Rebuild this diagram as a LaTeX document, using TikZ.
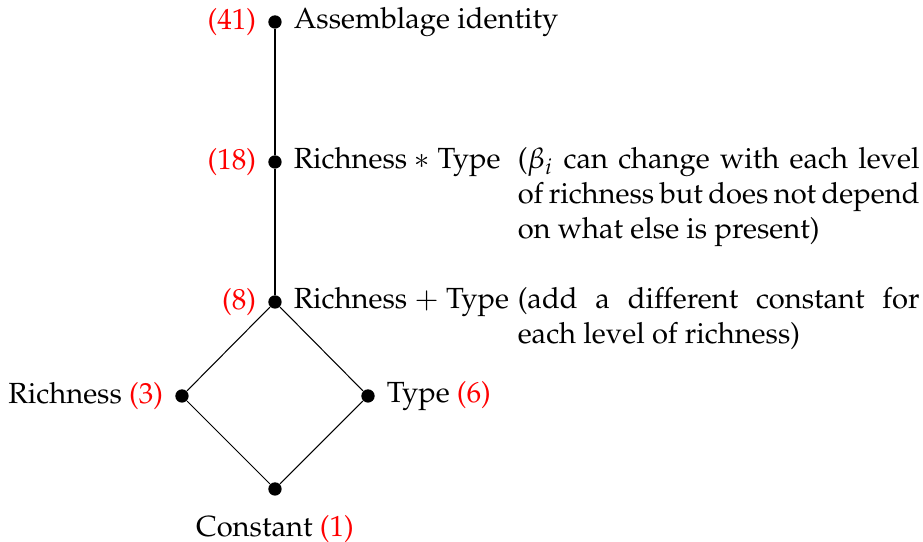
\documentclass[tikz,border=0pt]{standalone}
\usepackage[T1]{fontenc}
\usepackage{mathpazo}
\usetikzlibrary{positioning}
\hyphenation{depend}

\begin{document}
\begin{tikzpicture}[
          % puntos de la red
          dot/.style={circle, fill=black, inner sep=0pt, minimum size=0.18cm},
          % etiquetas de los modelos
          lbl/.style={inner sep=0pt, font=\fontsize{11.2}{13.5}\selectfont},
          count/.style={text=red},
          % notas a la derecha
          note/.style={inner sep=0pt, text width=5.43cm, align=justify, anchor=base west,
              font=\fontsize{11.2}{13.5}\selectfont}
      ]
      \useasboundingbox (0,0) rectangle (12.473,7.324);

      % === PUNTOS ===
      \node[dot] (d41) at (3.716,7.027) {};
      \node[dot] (d18) at (3.716,5.135) {};
      \node[dot] (d8)  at (3.716,3.243) {};
      \node[dot] (d3)  at (2.459,1.973) {};
      \node[dot] (d6)  at (4.973,1.973) {};
      \node[dot] (d1)  at (3.716,0.716) {};

      % === CONEXIONES ===
      \draw (d41) -- (d18) -- (d8);
      \draw (d8) -- (d3) -- (d1);
      \draw (d8) -- (d6) -- (d1);

      % === ETIQUETAS ===
      \node[lbl, right=0.15cm of d41] (l41) {Assemblage identity};
      \node[lbl, count, left=0.15cm of d41] (c41) {(41)};
      \node[lbl, right=0.15cm of d18] (l18) {Richness $*$ Type};
      \node[lbl, count, left=0.15cm of d18] (c18) {(18)};
      \node[lbl, right=0.15cm of d8] (l8) {Richness $+$ Type};
      \node[lbl, count, left=0.15cm of d8] (c8) {(8)};
      \node[lbl, left=0.15cm of d3] (l3) {Richness \textcolor{red}{(3)}};
      \node[lbl, right=0.15cm of d6] (l6) {Type \textcolor{red}{(6)}};
      \node[lbl, below=0.25cm of d1] (l1) {Constant \textcolor{red}{(1)}};

      % === NOTAS ===
      \coordinate (notecol) at (6.99,0);
      \node[note] (n18) at (l18.base -| notecol) {($\beta_i$ can change with each level\linebreak
          \makebox[5.43cm][s]{\spaceskip=0.15em plus 1fil\relax of richness but does not depend}\linebreak
          on what else is present)};
      \node[note] (n8) at (l8.base -| notecol) {(add a different constant for each level of richness)};

      \end{tikzpicture}
\end{document}
